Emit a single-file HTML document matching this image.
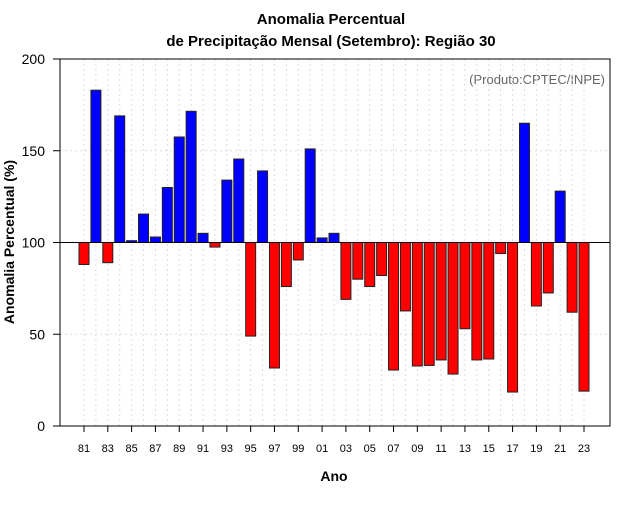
<!DOCTYPE html>
<html><head><meta charset="utf-8"><style>
body{margin:0;background:#fff;font-family:"Liberation Sans",sans-serif}
</style></head><body>
<svg id="c" width="640" height="500" xmlns="http://www.w3.org/2000/svg">
<text x="331" y="24" text-anchor="middle" font-size="15" font-weight="bold">Anomalia Percentual</text>
<text x="331" y="46" text-anchor="middle" font-size="15" font-weight="bold">de Precipitação Mensal (Setembro): Região 30</text>
<text x="605" y="84" text-anchor="end" font-size="13" fill="#666">(Produto:CPTEC/INPE)</text>
<text x="334" y="481" text-anchor="middle" font-size="14" font-weight="bold">Ano</text>
<text transform="translate(14,242) rotate(-90)" text-anchor="middle" font-size="14" font-weight="bold">Anomalia Percentual (%)</text>
<g id="grid"></g><g id="bars"></g><g id="axes"></g>
<rect x="60" y="59" width="550" height="367" fill="none" stroke="#000"/>
</svg>
<script>
const years=[81,82,83,84,85,86,87,88,89,90,91,92,93,94,95,96,97,98,99,0,1,2,3,4,5,6,7,8,9,10,11,12,13,14,15,16,17,18,19,20,21,22,23];
const values=[88,183,89,169,101,115.5,103,130,157.5,171.5,105,97.5,134,145.5,49,139,31.6,76,90.5,151,102.5,105,69,80,76,82,30.5,62.7,32.7,33,36,28.3,53,36,36.5,94,18.5,165,65.4,72.5,128,62,19];
const yTicks=[0,50,100,150,200];
const NS="http://www.w3.org/2000/svg";
const y=v=>426-v*367/200;
const x=i=>84+i*(500/42);
function mk(t,a,p){const e=document.createElementNS(NS,t);for(const k in a)e.setAttribute(k,a[k]);document.getElementById(p).appendChild(e);return e;}
years.forEach((yr,i)=>{
  const g=mk('line',{x1:x(i),x2:x(i),y1:59,y2:426,stroke:'#ddd','stroke-dasharray':'2,3'},'grid');
  
  
});
yTicks.forEach(v=>{
  const g=mk('line',{x1:60,x2:610,y1:y(v),y2:y(v),stroke:'#ddd','stroke-dasharray':'2,3'},'grid');
  
  
  const t=mk('line',{x1:53,x2:60,y1:y(v),y2:y(v),stroke:'#000'},'axes');
  
  
  const l=mk('text',{x:45,y:y(v)+5,'text-anchor':'end','font-size':14},'axes');
  l.textContent=v;
  
  
});
values.forEach((v,i)=>{
  const top=Math.min(y(v),y(100)),h=Math.abs(y(v)-y(100));
  const b=mk('rect',{x:x(i)-5,y:top,width:10,height:h,fill:v>=100?'#0000ff':'#ff0000',stroke:'#222','stroke-width':1},'bars');
  
  
  if(i%2===0){
    const t=mk('line',{x1:x(i),x2:x(i),y1:426,y2:432,stroke:'#000'},'axes');
    
    
    const l=mk('text',{x:x(i),y:452,'text-anchor':'middle','font-size':11},'axes');
    l.textContent=String(years[i]).padStart(2,'0');
    
    
  }
});
const r=mk('line',{x1:60,x2:610,y1:y(100),y2:y(100),stroke:'#000'},'axes');


</script>
</body></html>
